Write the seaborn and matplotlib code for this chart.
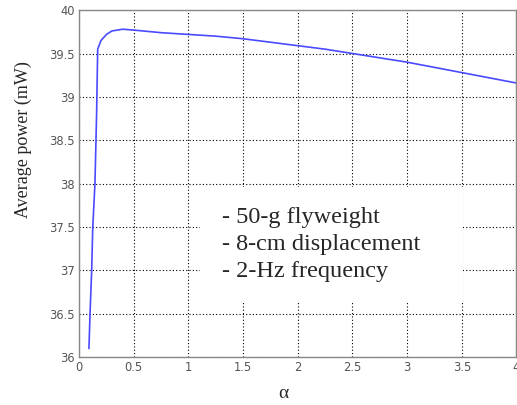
import matplotlib
matplotlib.use("Agg")
import matplotlib.pyplot as plt
import seaborn as sns
import pandas as pd
from matplotlib.patches import Rectangle

# curva
alpha = [0.09, 0.10, 0.115, 0.125, 0.145, 0.16, 0.17, 0.20, 0.25, 0.30,
         0.40, 0.50, 0.75, 1.00, 1.25, 1.50, 1.75, 2.00, 2.25, 2.50,
         2.75, 3.00, 3.25, 3.50, 3.75, 4.00]
power = [36.10, 36.50, 37.00, 37.50, 38.00, 38.80, 39.55, 39.65, 39.72, 39.76,
         39.78, 39.77, 39.74, 39.72, 39.70, 39.67, 39.63, 39.59, 39.55, 39.50,
         39.45, 39.40, 39.34, 39.28, 39.22, 39.16]

x_ticks = [0, 0.5, 1, 1.5, 2, 2.5, 3, 3.5, 4]
x_ticklabels = ['0', '0.5', '1', '1.5', '2', '2.5', '3', '3.5', '4']
y_ticks = [36, 36.5, 37, 37.5, 38, 38.5, 39, 39.5, 40]
y_ticklabels = ['36', '36.5', '37', '37.5', '38', '38.5', '39', '39.5', '40']

notes = ['- 50-g flyweight', '- 8-cm displacement', '- 2-Hz frequency']

df = pd.DataFrame({'alpha': alpha, 'power': power})

sns.set_style('white')
plt.rcParams['font.family'] = ['Liberation Serif', 'DejaVu Serif']

fig = plt.figure(figsize=(5.17, 4.05), dpi=100)
ax = fig.add_axes([0.153, 0.118, 0.846, 0.857])

sns.lineplot(data=df, x='alpha', y='power', ax=ax, color='#4a4aff', linewidth=1.2)

ax.set_xlim(0, 4)
ax.set_ylim(36, 40)
ax.set_xticks(x_ticks)
ax.set_xticklabels(x_ticklabels, family='DejaVu Sans', fontsize=8.3, color='#555555')
ax.set_yticks(y_ticks)
ax.set_yticklabels(y_ticklabels, family='DejaVu Sans', fontsize=8.3, color='#555555')
ax.tick_params(length=0, pad=3)

ax.grid(True, color='black', linestyle=(0, (1, 2)), linewidth=0.8)
for s in ax.spines.values():
    s.set_color('#888888')
    s.set_linewidth(1.0)

ax.set_xlabel('α', fontsize=14)
ax.set_ylabel('Average power (mW)', fontsize=13)
ax.xaxis.set_label_coords(0.467, -0.079)
ax.yaxis.set_label_coords(-0.107, 0.628)

# caja blanca que tapa la rejilla detras del texto
ax.add_patch(Rectangle((1.105, 36.64), 2.41, 1.32, facecolor='white',
                       edgecolor='none', zorder=2))
ax.text(1.306, 37.30, '\n'.join(notes), fontsize=17.5, va='center', ha='left',
        linespacing=1.4, zorder=3)

fig.savefig('out.png', dpi=100)
